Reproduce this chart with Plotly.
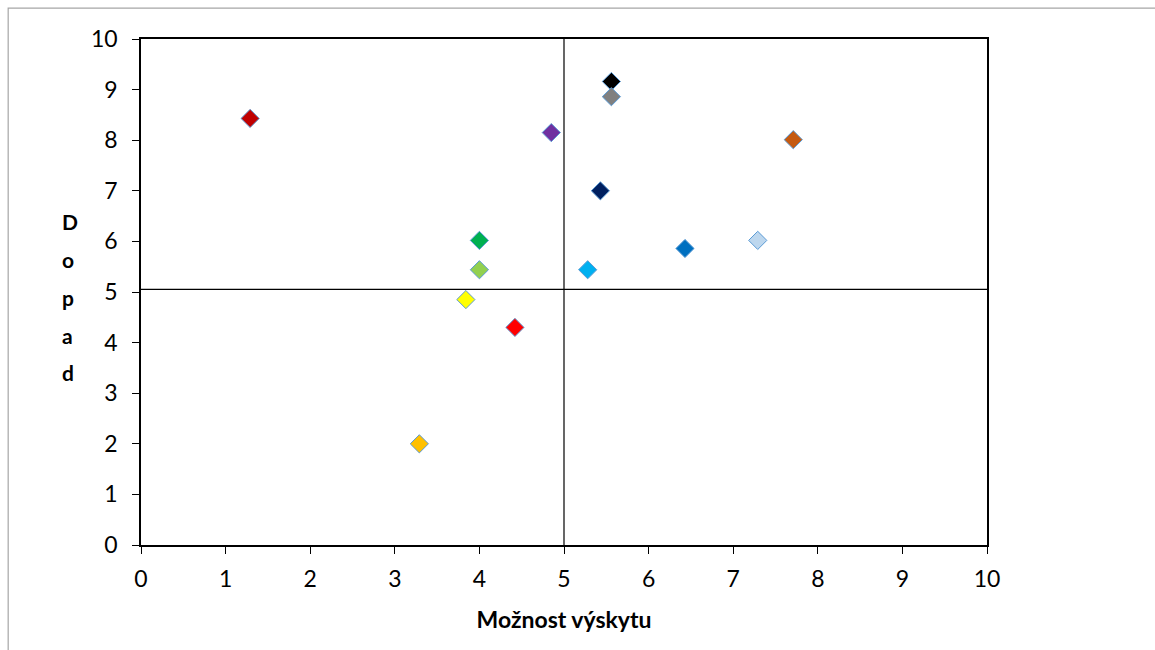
import plotly.graph_objects as go

# Data points (Možnost výskytu, Dopad)
x_vals = [1.29, 4.85, 5.56, 5.56, 5.43, 7.71, 4.0, 4.0, 5.28, 6.43, 7.29, 3.84, 4.42, 3.29]
y_vals = [8.43, 8.15, 9.16, 8.86, 7.0, 8.01, 6.02, 5.44, 5.44, 5.86, 6.02, 4.85, 4.30, 2.0]
colors = ["#C00000", "#7030A0", "#000000", "#808080", "#002060", "#C55A11", "#00B050",
          "#92D050", "#00B0F0", "#0070C0", "#BDD7EE", "#FFFF00", "#FF0000", "#FFC000"]

# Crosshair lines
cross_x = 5.0
cross_y = 5.05
axis_range = [0, 10]
tick_vals = list(range(0, 11))

x_title = "Možnost výskytu"
y_title_letters = ["D", "o", "p", "a", "d"]

FONT = "Lato, Open Sans, sans-serif"

fig = go.Figure()

fig.add_trace(go.Scatter(x=[cross_x, cross_x], y=axis_range, mode="lines",
                         line=dict(color="black", width=1.2), showlegend=False, hoverinfo="skip"))
fig.add_trace(go.Scatter(x=axis_range, y=[cross_y, cross_y], mode="lines",
                         line=dict(color="black", width=1.2), showlegend=False, hoverinfo="skip"))

fig.add_trace(go.Scatter(
    x=x_vals, y=y_vals, mode="markers", showlegend=False,
    marker=dict(symbol="diamond", size=14, color=colors,
                line=dict(color="#5B9BD5", width=1))))

axis_common = dict(range=axis_range, tickvals=tick_vals, showgrid=False, zeroline=False,
                   showline=True, linecolor="black", linewidth=1.5, mirror=True,
                   ticks="outside", ticklen=7, tickcolor="black", tickwidth=1,
                   tickfont=dict(family=FONT, size=23, color="black"))

fig.update_xaxes(**axis_common, ticklabelstandoff=6,
                 title=dict(text="<b>" + x_title + "</b>", standoff=21,
                            font=dict(family=FONT, size=23, color="black")))
fig.update_yaxes(**axis_common, ticklabelstandoff=10)

for i, letter in enumerate(y_title_letters):
    fig.add_annotation(xref="paper", yref="paper", x=-0.096, y=0.64 - i * 0.075,
                       text="<b>" + letter + "</b>", showarrow=False,
                       font=dict(family=FONT, size=21, color="black"))

fig.add_shape(type="rect", xref="paper", yref="paper", x0=-0.157, y0=-0.4, x1=1.3, y1=1.061,
              line=dict(color="#A6A6A6", width=1.2), layer="below")

fig.update_layout(width=1155, height=650, plot_bgcolor="white", paper_bgcolor="white",
                  margin=dict(l=141, r=168, t=39, b=104.5),
                  font=dict(family=FONT, color="black"))

fig.write_html("out.html")
